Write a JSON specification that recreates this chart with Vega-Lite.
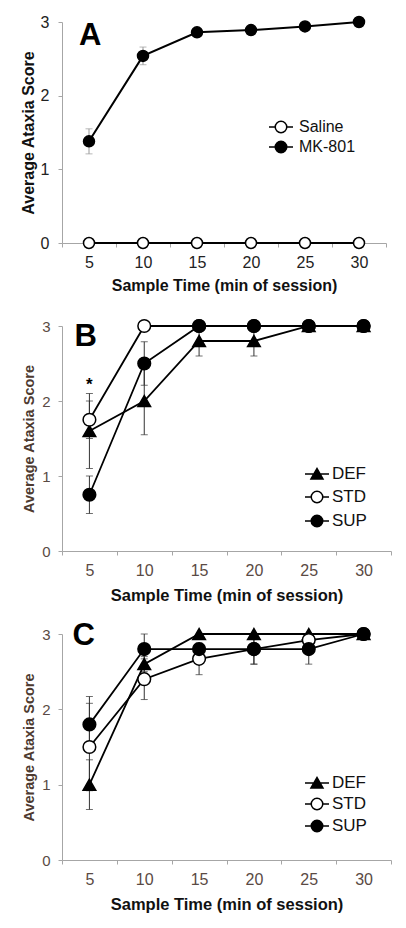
{
  "$schema": "https://vega.github.io/schema/vega-lite/v6.json",
  "background": "white",
  "padding": {"left": 20, "top": 13, "right": 0, "bottom": 0},
  "autosize": {"type": "pad"},
  "bounds": "flush",
  "spacing": 83,
  "config": {
    "view": {"stroke": null},
    "font": "Liberation Sans",
    "axis": {"grid": false, "domainColor": "#a6a6a6", "tickColor": "#a6a6a6", "tickSize": 4, "domainWidth": 1, "tickWidth": 1, "titleFontWeight": "bold", "titleColor": "#111"},
    "axisY": {"labelPadding": 9, "format": "d"},
    "axisX": {"labelPadding": 7, "titlePadding": 9, "labelAngle": 0},
    "legend": {"orient": "none", "title": null, "symbolSize": 256, "symbolStrokeWidth": 1.5, "symbolOpacity": 1, "labelColor": "#111", "padding": 0}
  },
  "resolve": {"scale": {"x": "independent", "y": "independent", "shape": "independent", "fill": "independent"}, "legend": {"shape": "independent", "fill": "independent"}},
  "datasets": {
    "a": [
      {"t": 5, "g": "Saline", "mean": 0},
      {"t": 10, "g": "Saline", "mean": 0},
      {"t": 15, "g": "Saline", "mean": 0},
      {"t": 20, "g": "Saline", "mean": 0},
      {"t": 25, "g": "Saline", "mean": 0},
      {"t": 30, "g": "Saline", "mean": 0},
      {"t": 5, "g": "MK-801", "mean": 1.38, "lo": 1.21, "hi": 1.55},
      {"t": 10, "g": "MK-801", "mean": 2.54, "lo": 2.42, "hi": 2.66},
      {"t": 15, "g": "MK-801", "mean": 2.86},
      {"t": 20, "g": "MK-801", "mean": 2.89},
      {"t": 25, "g": "MK-801", "mean": 2.94},
      {"t": 30, "g": "MK-801", "mean": 3.0}
    ],
    "b": [
      {"t": 5, "g": "DEF", "mean": 1.6, "lo": 1.1, "hi": 2.1},
      {"t": 10, "g": "DEF", "mean": 2.0, "lo": 1.55, "hi": 2.45},
      {"t": 15, "g": "DEF", "mean": 2.8, "lo": 2.6, "hi": 3.0},
      {"t": 20, "g": "DEF", "mean": 2.8, "lo": 2.6, "hi": 3.0},
      {"t": 25, "g": "DEF", "mean": 3.0},
      {"t": 30, "g": "DEF", "mean": 3.0},
      {"t": 5, "g": "STD", "mean": 1.75, "lo": 1.5, "hi": 2.0},
      {"t": 10, "g": "STD", "mean": 3.0},
      {"t": 15, "g": "STD", "mean": 3.0},
      {"t": 20, "g": "STD", "mean": 3.0},
      {"t": 25, "g": "STD", "mean": 3.0},
      {"t": 30, "g": "STD", "mean": 3.0},
      {"t": 5, "g": "SUP", "mean": 0.75, "lo": 0.5, "hi": 1.0},
      {"t": 10, "g": "SUP", "mean": 2.5, "lo": 2.21, "hi": 2.79},
      {"t": 15, "g": "SUP", "mean": 3.0},
      {"t": 20, "g": "SUP", "mean": 3.0},
      {"t": 25, "g": "SUP", "mean": 3.0},
      {"t": 30, "g": "SUP", "mean": 3.0}
    ],
    "c": [
      {"t": 5, "g": "DEF", "mean": 1.0, "lo": 0.67, "hi": 1.33},
      {"t": 10, "g": "DEF", "mean": 2.6, "lo": 2.5, "hi": 2.7},
      {"t": 15, "g": "DEF", "mean": 3.0},
      {"t": 20, "g": "DEF", "mean": 3.0},
      {"t": 25, "g": "DEF", "mean": 3.0},
      {"t": 30, "g": "DEF", "mean": 3.0},
      {"t": 5, "g": "STD", "mean": 1.5, "lo": 0.92, "hi": 2.08},
      {"t": 10, "g": "STD", "mean": 2.4, "lo": 2.13, "hi": 2.67},
      {"t": 15, "g": "STD", "mean": 2.67, "lo": 2.46, "hi": 2.88},
      {"t": 20, "g": "STD", "mean": 2.8, "lo": 2.6, "hi": 3.0},
      {"t": 25, "g": "STD", "mean": 2.92},
      {"t": 30, "g": "STD", "mean": 3.0},
      {"t": 5, "g": "SUP", "mean": 1.8, "lo": 1.43, "hi": 2.17},
      {"t": 10, "g": "SUP", "mean": 2.8, "lo": 2.6, "hi": 3.0},
      {"t": 15, "g": "SUP", "mean": 2.8},
      {"t": 20, "g": "SUP", "mean": 2.8, "lo": 2.6, "hi": 3.0},
      {"t": 25, "g": "SUP", "mean": 2.8, "lo": 2.6, "hi": 3.0},
      {"t": 30, "g": "SUP", "mean": 3.0}
    ]
  },
  "vconcat": [
    {
      "width": 324, "height": 221,
      "data": {"name": "a"},
      "encoding": {
        "x": {"field": "t", "type": "ordinal", "scale": {"type": "band", "paddingInner": 0, "paddingOuter": 0}, "axis": {"tickBand": "extent", "title": "Sample Time (min of session)", "titleFontSize": 16, "labelFontSize": 16, "labelColor": "#222", "titlePadding": 7}}
      },
      "resolve": {"scale": {"shape": "independent", "fill": "independent"}, "legend": {"shape": "independent", "fill": "independent"}},
      "layer": [
        {"transform": [{"filter": "isValid(datum.lo)"}], "mark": {"type": "rule", "color": "#999", "strokeWidth": 1},
         "encoding": {"y": {"field": "lo", "type": "quantitative", "scale": {"domain": [0, 3], "nice": false}, "axis": {"values": [0, 1, 2, 3], "title": "Average Ataxia Score", "titleFontSize": 16, "labelFontSize": 16, "labelColor": "#222", "titlePadding": 4}}, "y2": {"field": "hi"}}},
        {"transform": [{"filter": "isValid(datum.lo)"}], "mark": {"type": "tick", "color": "#999", "size": 7, "thickness": 1, "orient": "horizontal"},
         "encoding": {"y": {"field": "lo", "type": "quantitative"}}},
        {"transform": [{"filter": "isValid(datum.lo)"}], "mark": {"type": "tick", "color": "#999", "size": 7, "thickness": 1, "orient": "horizontal"},
         "encoding": {"y": {"field": "hi", "type": "quantitative"}}},
        {"mark": {"type": "line", "color": "black", "strokeWidth": 2},
         "encoding": {"y": {"field": "mean", "type": "quantitative"}, "detail": {"field": "g"}}},
        {"mark": {"type": "point", "filled": true, "stroke": "black", "strokeWidth": 1.5, "size": 121, "opacity": 1},
         "encoding": {
           "y": {"field": "mean", "type": "quantitative"},
           "shape": {"field": "g", "scale": {"domain": ["Saline", "MK-801"], "range": ["circle", "circle"]}, "legend": null},
           "fill": {"field": "g", "scale": {"domain": ["Saline", "MK-801"], "range": ["white", "black"]}, "legend": null}
         }},
        {"transform": [{"filter": "false"}],
         "mark": {"type": "point", "filled": true, "stroke": "black", "strokeWidth": 1.5, "opacity": 1},
         "encoding": {
           "shape": {"field": "g", "type": "nominal", "scale": {"domain": ["Saline", "MK-801"], "range": ["M-1.5,0H-0.72M0.72,0H1.5M0.72,0A0.72,0.72,0,1,1,-0.72,0A0.72,0.72,0,1,1,0.72,0Z", "M-1.5,0H-0.72M0.72,0H1.5M0.72,0A0.72,0.72,0,1,1,-0.72,0A0.72,0.72,0,1,1,0.72,0Z"]},
             "legend": {"legendX": 210, "legendY": 96, "labelFontSize": 16, "labelOffset": 9, "rowPadding": 2}},
           "fill": {"field": "g", "type": "nominal", "scale": {"domain": ["Saline", "MK-801"], "range": ["white", "black"]},
             "legend": {"legendX": 210, "legendY": 96, "labelFontSize": 16, "labelOffset": 9, "rowPadding": 2}}
         }},
        {"data": {"values": [{"t": 5, "y": 3, "s": "A"}]},
         "mark": {"type": "text", "align": "left", "baseline": "alphabetic", "dx": -10, "dy": 23, "fontSize": 31, "fontWeight": "bold", "color": "black"},
         "encoding": {"y": {"field": "y", "type": "quantitative"}, "text": {"field": "s"}}}
      ]
    },
    {
      "width": 329, "height": 225,
      "data": {"name": "b"},
      "encoding": {
        "x": {"field": "t", "type": "ordinal", "scale": {"type": "band", "paddingInner": 0, "paddingOuter": 0}, "axis": {"tickBand": "extent", "title": "Sample Time (min of session)", "titleFontSize": 16.5, "labelFontSize": 16, "labelColor": "#5a4a44"}}
      },
      "resolve": {"scale": {"shape": "independent", "fill": "independent"}, "legend": {"shape": "independent", "fill": "independent"}},
      "layer": [
        {"transform": [{"filter": "isValid(datum.lo)"}], "mark": {"type": "rule", "color": "#333", "strokeWidth": 1},
         "encoding": {"y": {"field": "lo", "type": "quantitative", "scale": {"domain": [0, 3], "nice": false}, "axis": {"values": [0, 1, 2, 3], "title": "Average Ataxia Score", "titleFontSize": 14.5, "titleColor": "#4d3a30", "labelFontSize": 15, "labelColor": "#5a4a44", "titlePadding": 5, "labelPadding": 8}}, "y2": {"field": "hi"}}},
        {"transform": [{"filter": "isValid(datum.lo)"}], "mark": {"type": "tick", "color": "#333", "size": 7, "thickness": 1, "orient": "horizontal"},
         "encoding": {"y": {"field": "lo", "type": "quantitative"}}},
        {"transform": [{"filter": "isValid(datum.lo)"}], "mark": {"type": "tick", "color": "#333", "size": 7, "thickness": 1, "orient": "horizontal"},
         "encoding": {"y": {"field": "hi", "type": "quantitative"}}},
        {"mark": {"type": "line", "color": "black", "strokeWidth": 1.8},
         "encoding": {"y": {"field": "mean", "type": "quantitative"}, "detail": {"field": "g"}}},
        {"mark": {"type": "point", "filled": true, "stroke": "black", "strokeWidth": 1.5, "size": 160, "opacity": 1},
         "encoding": {
           "y": {"field": "mean", "type": "quantitative"},
           "shape": {"field": "g", "scale": {"domain": ["DEF", "STD", "SUP"], "range": ["triangle-up", "circle", "circle"]}, "legend": null},
           "fill": {"field": "g", "scale": {"domain": ["DEF", "STD", "SUP"], "range": ["black", "white", "black"]}, "legend": null}
         }},
        {"transform": [{"filter": "false"}],
         "mark": {"type": "point", "filled": true, "stroke": "black", "strokeWidth": 1.5, "opacity": 1},
         "encoding": {
           "shape": {"field": "g", "type": "nominal", "scale": {"domain": ["DEF", "STD", "SUP"], "range": ["M-1.5,0H1.5M-0.75,0.62L0,-0.7L0.75,0.62Z", "M-1.5,0H-0.72M0.72,0H1.5M0.72,0A0.72,0.72,0,1,1,-0.72,0A0.72,0.72,0,1,1,0.72,0Z", "M-1.5,0H-0.72M0.72,0H1.5M0.72,0A0.72,0.72,0,1,1,-0.72,0A0.72,0.72,0,1,1,0.72,0Z"]},
             "legend": {"legendX": 246, "legendY": 139, "labelFontSize": 17, "labelOffset": 6, "rowPadding": 6}},
           "fill": {"field": "g", "type": "nominal", "scale": {"domain": ["DEF", "STD", "SUP"], "range": ["black", "white", "black"]},
             "legend": {"legendX": 246, "legendY": 139, "labelFontSize": 17, "labelOffset": 6, "rowPadding": 6}}
         }},
        {"data": {"values": [{"t": 5, "y": 3, "s": "B"}]},
         "mark": {"type": "text", "align": "left", "baseline": "alphabetic", "dx": -15, "dy": 20, "fontSize": 31, "fontWeight": "bold", "color": "black"},
         "encoding": {"y": {"field": "y", "type": "quantitative"}, "text": {"field": "s"}}},
        {"data": {"values": [{"t": 5, "y": 2.1, "s": "*"}]},
         "mark": {"type": "text", "align": "center", "baseline": "alphabetic", "dy": -4, "fontSize": 17, "fontWeight": "bold", "color": "black"},
         "encoding": {"y": {"field": "y", "type": "quantitative"}, "text": {"field": "s"}}}
      ]
    },
    {
      "width": 329, "height": 226,
      "data": {"name": "c"},
      "encoding": {
        "x": {"field": "t", "type": "ordinal", "scale": {"type": "band", "paddingInner": 0, "paddingOuter": 0}, "axis": {"tickBand": "extent", "title": "Sample Time (min of session)", "titleFontSize": 16.5, "labelFontSize": 16, "labelColor": "#5a4a44"}}
      },
      "resolve": {"scale": {"shape": "independent", "fill": "independent"}, "legend": {"shape": "independent", "fill": "independent"}},
      "layer": [
        {"transform": [{"filter": "isValid(datum.lo)"}], "mark": {"type": "rule", "color": "#333", "strokeWidth": 1},
         "encoding": {"y": {"field": "lo", "type": "quantitative", "scale": {"domain": [0, 3], "nice": false}, "axis": {"values": [0, 1, 2, 3], "title": "Average Ataxia Score", "titleFontSize": 14.5, "titleColor": "#4d3a30", "labelFontSize": 15, "labelColor": "#5a4a44", "titlePadding": 5, "labelPadding": 8}}, "y2": {"field": "hi"}}},
        {"transform": [{"filter": "isValid(datum.lo)"}], "mark": {"type": "tick", "color": "#333", "size": 7, "thickness": 1, "orient": "horizontal"},
         "encoding": {"y": {"field": "lo", "type": "quantitative"}}},
        {"transform": [{"filter": "isValid(datum.lo)"}], "mark": {"type": "tick", "color": "#333", "size": 7, "thickness": 1, "orient": "horizontal"},
         "encoding": {"y": {"field": "hi", "type": "quantitative"}}},
        {"mark": {"type": "line", "color": "black", "strokeWidth": 1.8},
         "encoding": {"y": {"field": "mean", "type": "quantitative"}, "detail": {"field": "g"}}},
        {"mark": {"type": "point", "filled": true, "stroke": "black", "strokeWidth": 1.5, "size": 160, "opacity": 1},
         "encoding": {
           "y": {"field": "mean", "type": "quantitative"},
           "shape": {"field": "g", "scale": {"domain": ["DEF", "STD", "SUP"], "range": ["triangle-up", "circle", "circle"]}, "legend": null},
           "fill": {"field": "g", "scale": {"domain": ["DEF", "STD", "SUP"], "range": ["black", "white", "black"]}, "legend": null}
         }},
        {"transform": [{"filter": "false"}],
         "mark": {"type": "point", "filled": true, "stroke": "black", "strokeWidth": 1.5, "opacity": 1},
         "encoding": {
           "shape": {"field": "g", "type": "nominal", "scale": {"domain": ["DEF", "STD", "SUP"], "range": ["M-1.5,0H1.5M-0.75,0.62L0,-0.7L0.75,0.62Z", "M-1.5,0H-0.72M0.72,0H1.5M0.72,0A0.72,0.72,0,1,1,-0.72,0A0.72,0.72,0,1,1,0.72,0Z", "M-1.5,0H-0.72M0.72,0H1.5M0.72,0A0.72,0.72,0,1,1,-0.72,0A0.72,0.72,0,1,1,0.72,0Z"]},
             "legend": {"legendX": 246, "legendY": 140, "labelFontSize": 17, "labelOffset": 6, "rowPadding": 4}},
           "fill": {"field": "g", "type": "nominal", "scale": {"domain": ["DEF", "STD", "SUP"], "range": ["black", "white", "black"]},
             "legend": {"legendX": 246, "legendY": 140, "labelFontSize": 17, "labelOffset": 6, "rowPadding": 4}}
         }},
        {"data": {"values": [{"t": 5, "y": 3, "s": "C"}]},
         "mark": {"type": "text", "align": "left", "baseline": "alphabetic", "dx": -17, "dy": 11, "fontSize": 31, "fontWeight": "bold", "color": "black"},
         "encoding": {"y": {"field": "y", "type": "quantitative"}, "text": {"field": "s"}}}
      ]
    }
  ]
}
